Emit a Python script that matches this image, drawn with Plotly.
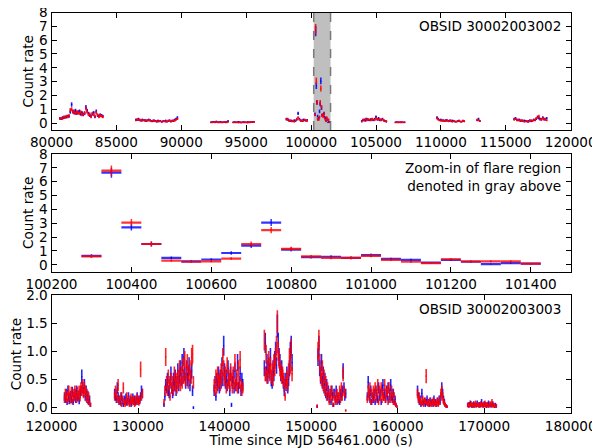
import numpy as np
import plotly.graph_objects as go

# ---------------- Data ----------------
# Panel 1: OBSID 30002003002, 100 s bins; (segment start time, FPMA blue, FPMB red)
BIN_P1 = 100
EXPO_P1 = 50     # effective (livetime-corrected) exposure per bin, s
P1_STARTS = [80650, 86500, 92300, 94000, 98100, 103900, 106500, 109700, 112800, 115650]
P1_BLUE = [
    [0.35,0.30,0.40,0.38,0.45,0.42,0.50,0.48,0.80,1.35,0.85,0.75,0.90,0.70,0.80,0.85,0.65,0.75,0.60,0.70,1.15,0.90,0.70,0.55,0.50,0.65,0.75,0.45,0.85,0.55,0.50,0.60,0.55,0.50],
    [0.25,0.22,0.30,0.20,0.18,0.25,0.20,0.22,0.15,0.20,0.25,0.18,0.15,0.12,0.20,0.15,0.10,0.18,0.12,0.15,0.10,0.15,0.12,0.18,0.10,0.15,0.20,0.12,0.18,0.15,0.25,0.30,0.40],
    [0.05,0.08,0.10,0.05,0.12,0.08,0.05,0.10,0.06,0.04,0.08,0.05,0.10,0.15],
    [0.05,0.08,0.04,0.06,0.10,0.05,0.03,0.06,0.08,0.05,0.04,0.07,0.05,0.08,0.06,0.10,0.08],
    [0.30,0.25,0.20,0.15,0.18,0.12,0.20,0.15,0.25,0.70,0.30,0.20,0.15,0.25,0.20,0.18,0.22],
    [0.15,0.20,0.25,0.18,0.30,0.22,0.20,0.28,0.25,0.20,0.30,0.45,0.25,0.35,0.20,0.25,0.30,0.18,0.15,0.10],
    [0.05,0.08,0.04,0.06,0.05,0.07,0.04,0.06],
    [0.40,0.30,0.20,0.25,0.18,0.20,0.15,0.22,0.18,0.15,0.20,0.12,0.18,0.15,0.10,0.12,0.15,0.18,0.12,0.10,0.15,0.12],
    [0.20,0.30,0.15],
    [0.30,0.35,0.25,0.20,0.25,0.15,0.20,0.12,0.18,0.15,0.10,0.15,0.20,0.12,0.18,0.25,0.20,0.30,0.45,0.35,0.30,0.25,0.40,0.30,0.25,0.35],
]
P1_RED = [
    [0.30,0.35,0.32,0.45,0.40,0.50,0.45,0.55,0.95,1.00,0.80,0.85,0.70,0.80,0.75,0.70,0.80,0.60,0.65,0.75,1.05,0.80,0.60,0.65,0.45,0.70,0.60,0.50,0.75,0.60,0.45,0.55,0.50,0.45],
    [0.20,0.28,0.22,0.25,0.20,0.18,0.22,0.15,0.20,0.18,0.20,0.22,0.12,0.18,0.15,0.12,0.15,0.10,0.15,0.12,0.08,0.12,0.15,0.10,0.12,0.18,0.15,0.10,0.15,0.20,0.18,0.25,0.30],
    [0.08,0.05,0.06,0.10,0.08,0.05,0.08,0.04,0.05,0.08,0.06,0.10,0.05,0.08],
    [0.06,0.04,0.08,0.05,0.03,0.07,0.06,0.04,0.05,0.08,0.06,0.03,0.07,0.05,0.08,0.06,0.10],
    [0.25,0.30,0.15,0.20,0.12,0.15,0.10,0.20,0.30,0.40,0.25,0.15,0.20,0.15,0.25,0.20,0.15],
    [0.10,0.25,0.18,0.30,0.20,0.28,0.25,0.20,0.30,0.25,0.22,0.35,0.30,0.25,0.28,0.20,0.25,0.22,0.12,0.15],
    [0.06,0.04,0.07,0.05,0.08,0.04,0.06,0.05],
    [0.35,0.25,0.22,0.18,0.20,0.15,0.18,0.15,0.20,0.12,0.15,0.18,0.10,0.15,0.12,0.10,0.12,0.15,0.10,0.12,0.18,0.15],
    [0.25,0.20,0.15],
    [0.25,0.30,0.20,0.25,0.18,0.20,0.15,0.18,0.10,0.12,0.15,0.08,0.15,0.20,0.15,0.20,0.25,0.35,0.40,0.50,0.25,0.30,0.35,0.25,0.30,0.20],
]

# Flare region (panel 2), 50 s bins
BIN_FLARE = 50
FLARE_T = [100300,100350,100400,100450,100500,100550,100600,100650,100700,100750,100800,100850,
           100900,100950,101000,101050,101100,101150,101200,101250,101300,101350,101400]
FLARE_BLUE = [0.65,6.65,2.70,1.50,0.50,0.25,0.38,0.85,1.38,3.05,1.10,0.55,0.58,0.50,0.70,0.42,0.35,0.15,0.35,0.22,0.05,0.12,0.08]
FLARE_RED = [0.60,6.80,3.05,1.50,0.30,0.22,0.25,0.45,1.50,2.50,1.15,0.60,0.50,0.50,0.65,0.35,0.22,0.12,0.40,0.25,0.25,0.25,0.08]
SHADE = [100200, 101500]

# Panel 3: OBSID 30002003003, 100 s bins
BIN_P3 = 100
EXPO_P3 = 35     # effective (livetime-corrected) exposure per bin, s
P3_STARTS = [121500, 127300, 133000, 138800, 144600, 150700, 156500, 162300, 168100]
P3_BLUE = [
    [0.20,0.15,0.25,0.10,0.30,0.18,0.12,0.22,0.15,0.28,0.10,0.20,0.25,0.15,0.30,0.18,0.22,0.12,0.25,0.30,0.55,0.35,0.28,0.40,0.20,0.30,0.15,0.22,0.10,0.15,0.05],
    [0.25,0.20,0.15,0.35,0.20,0.10,0.15,0.08,0.20,0.12,0.05,0.15,0.10,0.18,0.08,0.12,0.20,0.10,0.15,0.05,0.12,0.18,0.10,0.15,0.08,0.12,0.20,0.10,0.15,0.12,0.20,0.30,0.25],
    [0.05,0.20,0.40,0.35,0.50,0.30,0.25,0.45,0.60,0.35,0.25,0.50,0.40,0.55,0.30,0.45,0.65,0.40,0.55,0.70,0.50,0.80,0.55,0.90,0.60,0.45,0.70,0.50,0.60,0.75,0.40,0.55,0.65,0.30,0.00],
    [0.30,0.45,0.20,0.50,0.40,0.60,0.35,0.55,0.45,0.75,0.50,1.10,0.65,0.45,0.55,0.40,0.70,0.50,0.30,0.60,0.05,0.45,0.55,0.35,0.65,0.40,0.50,0.80,0.35,0.45,0.60,0.30,0.50,0.40],
    [0.70,1.15,0.60,0.80,0.55,0.75,0.65,0.90,0.50,0.45,0.70,0.60,0.85,1.00,0.75,1.45,1.15,0.90,0.80,0.60,0.70,0.55,0.45,0.30,0.50,0.40,0.60,0.35,0.50,0.70,1.00,1.10,0.80],
    [0.02,0.90,1.10,0.70,0.55,0.80,0.45,0.60,0.35,0.50,0.25,0.40,0.20,0.30,0.15,0.25,0.10,0.30,0.20,0.05,0.25,0.15,0.30,0.10,0.20,0.15,0.10,0.25,0.20,0.30,0.65,0.35,0.20,0.25],
    [0.20,0.45,0.25,0.15,0.30,0.10,0.20,0.15,0.25,0.10,0.30,0.20,0.15,0.35,0.20,0.25,0.10,0.30,0.40,0.20,0.25,0.15,0.30,0.20,0.35,0.15,0.25,0.40,0.20,0.15,0.25,0.10,0.15,0.05,0.02],
    [0.30,0.20,0.10,0.15,0.05,0.25,0.10,0.08,0.12,0.05,0.10,0.15,0.06,0.10,0.05,0.12,0.08,0.10,0.05,0.15,0.08,0.10,0.05,0.12,0.08,0.15,0.10,0.20,0.35,0.25,0.15,0.10,0.05,0.03,0.02],
    [0.05,0.03,0.06,0.08,0.04,0.02,0.05,0.07,0.03,0.06,0.04,0.08,0.05,0.03,0.06,0.04,0.10,0.05,0.03,0.07,0.04,0.06,0.02,0.05,0.08,0.04,0.06,0.03,0.05,0.07,0.04,0.02,0.05,0.03],
]
P3_RED = [
    [0.15,0.25,0.18,0.22,0.12,0.30,0.20,0.15,0.28,0.12,0.25,0.18,0.30,0.22,0.15,0.28,0.20,0.30,0.18,0.35,0.30,0.40,0.25,0.35,0.30,0.18,0.25,0.12,0.20,0.08,0.05],
    [0.20,0.30,0.25,0.15,0.40,0.15,0.10,0.20,0.05,0.15,0.35,0.10,0.05,0.12,0.20,0.08,0.15,0.05,0.10,0.18,0.08,0.15,0.12,0.05,0.15,0.10,0.18,0.12,0.08,0.15,0.68,0.20,0.25],
    [0.10,0.30,0.90,0.45,0.30,0.55,0.40,0.20,0.50,0.35,0.45,0.30,0.60,0.40,0.50,0.35,0.55,0.45,0.70,0.40,0.60,0.45,0.75,0.55,0.85,0.50,0.65,0.80,0.45,0.60,0.70,0.55,0.90,0.95,0.45],
    [0.40,0.30,0.55,0.35,0.60,0.45,0.50,0.40,0.65,0.55,0.90,0.70,0.50,0.60,0.35,0.75,0.45,0.55,0.40,0.65,0.50,0.35,0.60,0.45,0.80,0.40,0.55,0.35,0.70,0.45,0.85,0.40,0.30,0.35],
    [1.20,0.60,0.95,0.55,0.70,0.85,0.60,0.75,0.55,0.65,0.50,0.80,0.70,0.90,1.10,1.52,1.00,0.85,0.70,0.65,0.55,0.60,0.50,0.40,0.20,0.45,0.55,0.40,0.65,0.90,0.75,1.05,0.60],
    [0.03,1.00,1.20,0.80,0.60,0.50,0.70,0.40,0.55,0.30,0.45,0.20,0.35,0.25,0.10,0.20,0.30,0.15,0.05,0.25,0.20,0.10,0.15,0.25,0.12,0.20,0.30,0.15,0.35,0.20,0.60,0.30,0.25,-0.05],
    [0.15,0.30,0.20,0.35,0.10,0.25,0.15,0.30,0.20,0.35,0.15,0.25,0.40,0.10,0.30,0.20,0.35,0.15,0.25,0.20,0.40,0.15,0.25,0.30,0.10,0.35,0.20,0.15,0.30,0.25,0.10,0.20,0.08,0.05,0.02],
    [0.25,0.15,0.20,0.10,0.12,0.08,0.15,0.05,0.10,0.12,0.56,0.08,0.10,0.05,0.12,0.08,0.05,0.10,0.12,0.06,0.10,0.05,0.08,0.12,0.05,0.10,0.15,0.25,0.30,0.20,0.12,0.08,0.05,0.03,0.02],
    [0.04,0.06,0.03,0.05,0.07,0.04,0.06,0.02,0.05,0.08,0.03,0.05,0.06,0.04,0.02,0.07,0.05,0.03,0.06,0.04,0.08,0.03,0.05,0.06,0.02,0.04,0.07,0.05,0.10,0.03,0.05,0.04,0.02,0.03],
]

LABEL_P1 = "OBSID 30002003002"
LABEL_P2 = "Zoom-in of flare region<br>denoted in gray above"
LABEL_P3 = "OBSID 30002003003"
XTITLE = "Time since MJD 56461.000 (s)"
YTITLE = "Count rate"

# ---------------- helpers ----------------
def build(starts, series, dt):
    t, v = [], []
    for s, vals in zip(starts, series):
        t.extend(s + dt * np.arange(len(vals)))
        v.extend(vals)
    return np.array(t, float), np.array(v, float)

def poisson_err(rate, expo):
    return np.sqrt(np.clip(rate, 0.02, None) * expo) / expo

BLUE = "rgba(0,0,255,0.85)"
RED = "rgba(255,0,0,0.85)"

fig = go.Figure()

def add_lc(t, r, dt, expo, color, xa, ya, thick=1.6, xthick=1.6):
    fig.add_trace(go.Scatter(
        x=t, y=r, mode="markers", xaxis=xa, yaxis=ya,
        marker=dict(size=1, color=color),
        error_y=dict(type="data", array=poisson_err(r, expo), color=color, thickness=thick, width=0),
        error_x=dict(type="data", array=np.full(len(t), dt / 2), color=color, thickness=xthick, width=0),
        showlegend=False, hoverinfo="skip"))

# panel 1 (include flare bins)
tb, vb = build(P1_STARTS, P1_BLUE, BIN_P1)
tr, vr = build(P1_STARTS, P1_RED, BIN_P1)
ft = np.array(FLARE_T, float)
add_lc(tb, vb, BIN_P1, EXPO_P1, BLUE, "x", "y")
add_lc(ft, np.array(FLARE_BLUE), BIN_FLARE, BIN_FLARE, BLUE, "x", "y")
add_lc(tr, vr, BIN_P1, EXPO_P1, RED, "x", "y")
add_lc(ft, np.array(FLARE_RED), BIN_FLARE, BIN_FLARE, RED, "x", "y")

# panel 2
add_lc(ft, np.array(FLARE_BLUE), BIN_FLARE, BIN_FLARE, "rgba(0,0,255,0.8)", "x2", "y2", thick=1.5, xthick=2.2)
add_lc(ft, np.array(FLARE_RED), BIN_FLARE, BIN_FLARE, "rgba(255,0,0,0.8)", "x2", "y2", thick=1.5, xthick=2.2)

# panel 3
t3b, v3b = build(P3_STARTS, P3_BLUE, BIN_P3)
t3r, v3r = build(P3_STARTS, P3_RED, BIN_P3)
add_lc(t3b, v3b, BIN_P3, EXPO_P3, BLUE, "x3", "y3")
add_lc(t3r, v3r, BIN_P3, EXPO_P3, RED, "x3", "y3")

FONT = dict(family="DejaVu Sans", size=13.6, color="black")

# page body has an 8 px margin: the figure is 592x440 placed at (8, 8)
W, H, OFF = 592, 440, 8
def xd(a, b):
    return [(a - OFF) / W, (b - OFF) / W]
def yd(top, bottom):
    return [1 - (bottom - OFF) / H, 1 - (top - OFF) / H]

XD = xd(51.5, 570.7)

def ax(**kw):
    base = dict(showline=True, linecolor="black", linewidth=1, mirror="ticks",
                ticks="inside", ticklen=5, tickwidth=1, tickcolor="black",
                showgrid=False, zeroline=False, tickfont=FONT, tickformat="d",
                automargin=False, ticklabeloverflow="allow")
    base.update(kw)
    return base

fig.update_layout(
    width=W, height=H, margin=dict(l=0, r=0, t=0, b=0),
    paper_bgcolor="white", plot_bgcolor="white", font=FONT,
    xaxis=ax(domain=XD, range=[80000, 120000], dtick=5000, anchor="y"),
    yaxis=ax(domain=yd(12.5, 130), range=[-0.5, 8], dtick=1, anchor="x",
             title=dict(text=YTITLE, font=FONT, standoff=2)),
    xaxis2=ax(domain=XD, range=[100200, 101500], dtick=200, tick0=100200, anchor="y2"),
    yaxis2=ax(domain=yd(154, 271.7), range=[-0.5, 8], dtick=1, anchor="x2",
              title=dict(text=YTITLE, font=FONT, standoff=2)),
    xaxis3=ax(domain=XD, range=[120000, 180000], dtick=10000, anchor="y3",
              title=dict(text=XTITLE, font=FONT, standoff=2)),
    yaxis3=ax(domain=yd(295, 413.3), range=[-0.1, 2.0], dtick=0.5, anchor="x3",
              tickformat=".1f", title=dict(text=YTITLE, font=FONT, standoff=3)),
)

# gray shaded flare window on panel 1
fig.add_shape(type="rect", xref="x", yref="y domain", x0=SHADE[0], x1=SHADE[1], y0=0, y1=1,
              fillcolor="rgba(128,128,128,0.5)", line=dict(width=0), layer="below")
for xv in SHADE:
    fig.add_shape(type="line", xref="x", yref="y domain", x0=xv, x1=xv, y0=0, y1=1,
                  line=dict(color="rgba(110,110,110,0.9)", width=1.5, dash="dash"), layer="below")

fig.add_annotation(text=LABEL_P1, xref="x domain", yref="y domain", x=0.985, y=0.97,
                   xanchor="right", yanchor="top", showarrow=False, font=FONT)
fig.add_annotation(text=LABEL_P2, xref="x2 domain", yref="y2 domain", x=0.985, y=0.97,
                   xanchor="right", yanchor="top", showarrow=False, font=FONT, align="right")
fig.add_annotation(text=LABEL_P3, xref="x3 domain", yref="y3 domain", x=0.985, y=0.97,
                   xanchor="right", yanchor="top", showarrow=False, font=FONT)

fig.write_html("out.html")
